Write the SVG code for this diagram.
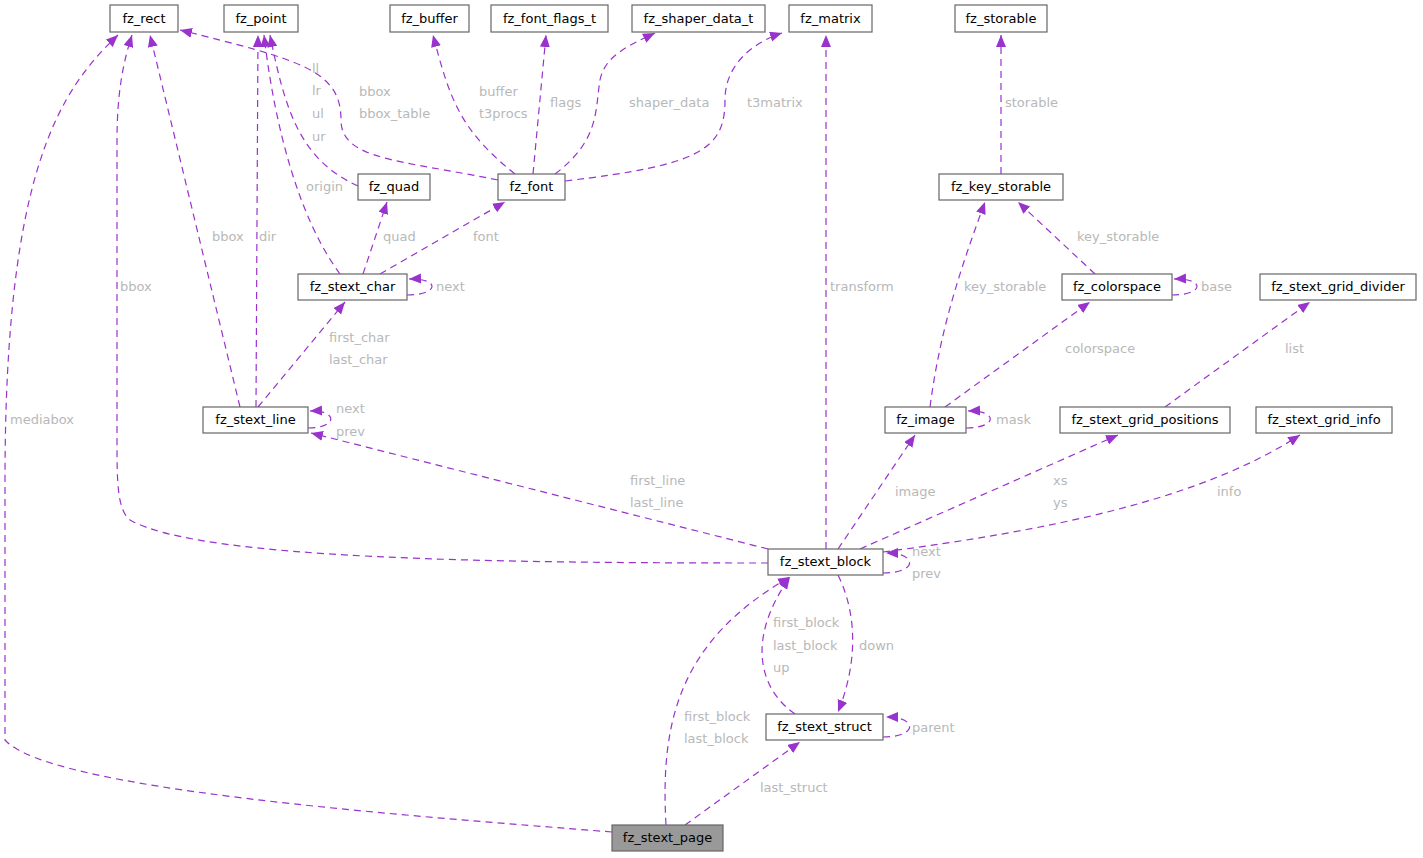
<svg xmlns="http://www.w3.org/2000/svg" width="1423" height="858" viewBox="0 0 1423 858">
<style>
.n rect{fill:#fff;stroke:#666;stroke-width:1.2}
.n text{font-family:"DejaVu Sans",sans-serif;font-size:13px;fill:#000;text-anchor:middle}
.e path{fill:none;stroke:#9a32cd;stroke-width:1.2;stroke-dasharray:7,5;marker-end:url(#a)}
.l text{font-family:"DejaVu Sans",sans-serif;font-size:13px;fill:#b8b8b8}
</style>
<defs><marker id="a" markerUnits="userSpaceOnUse" markerWidth="14" markerHeight="12" refX="12" refY="5" orient="auto"><path d="M0,0 L12,5 L0,10 Z" fill="#9a32cd"/></marker></defs>
<rect width="1423" height="858" fill="#fff"/>
<g id="edges" class="e">
<path d="M612,832 C400,815 50,790 5,740 L5,480 C5,170 60,90 118,35"/>
<path d="M768,563 C500,563 200,560 130,520 C117,510 117,480 117,440 L117,140 C117,90 124,60 132,35"/>
<path d="M240,407 L150,35"/>
<path d="M256,407 L258,35"/>
<path d="M340,274 C300,220 275,130 264,35"/>
<path d="M358,186 C300,160 285,110 270,35"/>
<path d="M498,180 C400,160 341,160 341,120 C341,70 300,60 180,30"/>
<path d="M515,174 C460,130 450,100 433,35"/>
<path d="M533,174 L546,35"/>
<path d="M555,174 C600,140 595,110 600,80 C605,55 630,45 655,33"/>
<path d="M565,181 C700,165 725,150 725,100 C725,60 760,40 782,33"/>
<path d="M363,274 L387,202"/>
<path d="M380,274 L505,202"/>
<path d="M407,295 C440,295 440,278 409,279"/>
<path d="M258,407 L345,302"/>
<path d="M308,428 C338,428 338,410 310,411"/>
<path d="M768,549 L311,433"/>
<path d="M826,549 L826,35"/>
<path d="M838,549 L915,435"/>
<path d="M860,549 L1118,435"/>
<path d="M883,552 C1050,530 1200,500 1300,435"/>
<path d="M883,573 C918,573 918,553 886,553"/>
<path d="M838,575 C860,620 855,670 838,712"/>
<path d="M795,714 C760,690 745,640 790,577"/>
<path d="M883,737 C918,737 918,717 886,717"/>
<path d="M666,825 C660,720 680,640 790,577"/>
<path d="M685,825 L800,742"/>
<path d="M930,407 C940,330 960,270 985,202"/>
<path d="M966,428 C998,428 998,410 968,411"/>
<path d="M945,407 L1090,302"/>
<path d="M1095,274 L1018,202"/>
<path d="M1172,295 C1205,295 1205,278 1174,279"/>
<path d="M1001,174 L1001,35"/>
<path d="M1165,407 L1310,302"/>
</g>
<g class="l">
<text x="10" y="424">mediabox</text>
<text x="120" y="291">bbox</text>
<text x="212" y="241">bbox</text>
<text x="259" y="241">dir</text>
<text x="306" y="191">origin</text>
<text x="312" y="73">ll</text><text x="312" y="95">lr</text><text x="312" y="118">ul</text><text x="312" y="141">ur</text>
<text x="359" y="96">bbox</text><text x="359" y="118">bbox_table</text>
<text x="479" y="96">buffer</text><text x="479" y="118">t3procs</text>
<text x="550" y="107">flags</text>
<text x="629" y="107">shaper_data</text>
<text x="747" y="107">t3matrix</text>
<text x="383" y="241">quad</text>
<text x="473" y="241">font</text>
<text x="436" y="291">next</text>
<text x="329" y="342">first_char</text><text x="329" y="364">last_char</text>
<text x="336" y="413">next</text><text x="336" y="436">prev</text>
<text x="630" y="485">first_line</text><text x="630" y="507">last_line</text>
<text x="830" y="291">transform</text>
<text x="895" y="496">image</text>
<text x="1053" y="485">xs</text><text x="1053" y="507">ys</text>
<text x="1217" y="496">info</text>
<text x="912" y="556">next</text><text x="912" y="578">prev</text>
<text x="859" y="650">down</text>
<text x="773" y="627">first_block</text><text x="773" y="650">last_block</text><text x="773" y="672">up</text>
<text x="912" y="732">parent</text>
<text x="684" y="721">first_block</text><text x="684" y="743">last_block</text>
<text x="760" y="792">last_struct</text>
<text x="964" y="291">key_storable</text>
<text x="996" y="424">mask</text>
<text x="1065" y="353">colorspace</text>
<text x="1077" y="241">key_storable</text>
<text x="1201" y="291">base</text>
<text x="1005" y="107">storable</text>
<text x="1285" y="353">list</text>
</g>
<g id="fz_rect" class="n"><rect x="110" y="5" width="68" height="27"/><text x="144" y="23">fz_rect</text></g>
<g id="fz_point" class="n"><rect x="224" y="5" width="74" height="27"/><text x="261" y="23">fz_point</text></g>
<g id="fz_buffer" class="n"><rect x="390" y="5" width="79" height="27"/><text x="429.5" y="23">fz_buffer</text></g>
<g id="fz_font_flags_t" class="n"><rect x="491" y="5" width="117" height="27"/><text x="549.5" y="23">fz_font_flags_t</text></g>
<g id="fz_shaper_data_t" class="n"><rect x="632" y="5" width="133" height="27"/><text x="698.5" y="23">fz_shaper_data_t</text></g>
<g id="fz_matrix" class="n"><rect x="789" y="5" width="83" height="27"/><text x="830.5" y="23">fz_matrix</text></g>
<g id="fz_storable" class="n"><rect x="955" y="5" width="92" height="27"/><text x="1001" y="23">fz_storable</text></g>
<g id="fz_quad" class="n"><rect x="358" y="174" width="72" height="26"/><text x="394" y="191">fz_quad</text></g>
<g id="fz_font" class="n"><rect x="498" y="174" width="67" height="26"/><text x="531.5" y="191">fz_font</text></g>
<g id="fz_key_storable" class="n"><rect x="939" y="174" width="124" height="26"/><text x="1001" y="191">fz_key_storable</text></g>
<g id="fz_stext_char" class="n"><rect x="298" y="274" width="109" height="26"/><text x="352.5" y="291">fz_stext_char</text></g>
<g id="fz_colorspace" class="n"><rect x="1062" y="274" width="110" height="26"/><text x="1117" y="291">fz_colorspace</text></g>
<g id="fz_stext_grid_divider" class="n"><rect x="1260" y="274" width="156" height="26"/><text x="1338" y="291">fz_stext_grid_divider</text></g>
<g id="fz_stext_line" class="n"><rect x="203" y="407" width="105" height="26"/><text x="255.5" y="424">fz_stext_line</text></g>
<g id="fz_image" class="n"><rect x="885" y="407" width="81" height="26"/><text x="925.5" y="424">fz_image</text></g>
<g id="fz_stext_grid_positions" class="n"><rect x="1060" y="407" width="170" height="26"/><text x="1145" y="424">fz_stext_grid_positions</text></g>
<g id="fz_stext_grid_info" class="n"><rect x="1256" y="407" width="136" height="26"/><text x="1324" y="424">fz_stext_grid_info</text></g>
<g id="fz_stext_block" class="n"><rect x="768" y="549" width="115" height="26"/><text x="825.5" y="566">fz_stext_block</text></g>
<g id="fz_stext_struct" class="n"><rect x="766" y="714" width="117" height="26"/><text x="824.5" y="731">fz_stext_struct</text></g>
<g id="fz_stext_page" class="n"><rect x="612" y="825" width="111" height="26" style="fill:#999"/><text x="667.5" y="842">fz_stext_page</text></g>
</svg>
